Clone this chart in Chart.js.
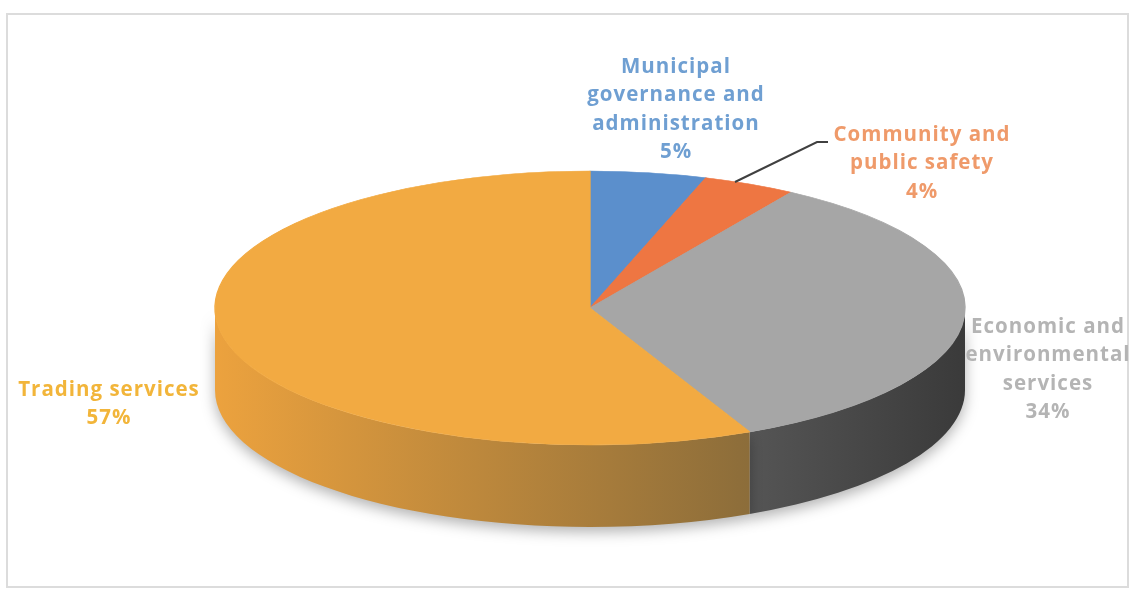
<!DOCTYPE html>
<html>
<head>
<meta charset="utf-8">
<script src="https://cdn.jsdelivr.net/npm/chart.js@4.4.1/dist/chart.umd.min.js"></script>
<style>
  html, body { margin: 0; padding: 0; background: #fff; }
  #wrap { position: relative; width: 1133px; height: 589px; }
</style>
</head>
<body>
<div id="wrap"><canvas id="pie" width="1133" height="589"></canvas></div>
<script>
// data
const categories = ["Municipal governance and administration", "Community and public safety", "Economic and environmental services", "Trading services"]
const shares = [5, 4, 34, 57]
const pct_labels = ["5%", "4%", "34%", "57%"]

const top_colors = ["#5b8fcc", "#ee7642", "#a6a6a6", "#f2aa42"]
const wall_colors = [["#4a73a6", "#3c5f8a"], ["#c26035", "#a0502c"], ["#555555", "#3a3a3a"], ["#eca23e", "#8c6d3a"]]
const text_colors = ["#6f9fd2", "#ef9a6a", "#b4b4b4", "#f2b53a"]

// where the tilted pie goes on the page
const CX = 590, CY = 308, RX = 375, RY = 137, DEPTH = 82

// label boxes: centre x, first line y, lines
const label_pos = [
    {x: 676, y: 67, lines: ["Municipal", "governance and", "administration"]},
    {x: 922, y: 135, lines: ["Community and", "public safety"]},
    {x: 1048, y: 327, lines: ["Economic and", "environmental", "services"]},
    {x: 109, y: 390, lines: ["Trading services"]}
]
const LINE_H = 28.5

const tilt = {
    id: "tilt",
    beforeDatasetsDraw(chart){
        const ctx = chart.ctx
        const meta = chart.getDatasetMeta(0)
        // side walls, only the front half (canvas angles 0..PI) is visible
        ctx.save()
        ctx.shadowColor = "rgba(0,0,0,0.3)"
        ctx.shadowBlur = 14
        ctx.shadowOffsetY = 5
        for(let i in meta.data){
            const arc = meta.data[i]
            const a = Math.max(arc.startAngle, 0)
            const b = Math.min(arc.endAngle, Math.PI)
            if(b <= a) continue
            const x0 = CX + RX*Math.cos(b), x1 = CX + RX*Math.cos(a)
            const grad = ctx.createLinearGradient(Math.min(x0, x1), 0, Math.max(x0, x1), 0)
            grad.addColorStop(0, wall_colors[i][0])
            grad.addColorStop(1, wall_colors[i][1])
            ctx.beginPath()
            ctx.ellipse(CX, CY, RX, RY, 0, a, b)
            ctx.ellipse(CX, CY + DEPTH, RX, RY, 0, b, a, true)
            ctx.closePath()
            ctx.fillStyle = grad
            ctx.fill()
        }
        ctx.restore()
        // squash the library's round pie into the top ellipse
        const first = meta.data[0]
        const R = first.outerRadius
        ctx.save()
        ctx.translate(CX, CY)
        ctx.scale(RX/R, RY/R)
        ctx.translate(-first.x, -first.y)
    },
    afterDatasetsDraw(chart){
        chart.ctx.restore()
    },
    afterDraw(chart){
        const ctx = chart.ctx
        ctx.save()
        // frame
        ctx.strokeStyle = "#dcdcdc"
        ctx.lineWidth = 2
        ctx.strokeRect(7, 14, 1121, 573)
        // leader line for the small slice
        ctx.strokeStyle = "#404040"
        ctx.lineWidth = 2
        ctx.beginPath()
        ctx.moveTo(735, 182)
        ctx.lineTo(817, 142)
        ctx.lineTo(828, 142)
        ctx.stroke()
        // labels
        ctx.font = "bold 20.5px 'Open Sans'"
        ctx.letterSpacing = "1px"
        ctx.textAlign = "center"
        ctx.textBaseline = "middle"
        for(let i in label_pos){
            const p = label_pos[i]
            ctx.fillStyle = text_colors[i]
            const lines = p.lines.concat([pct_labels[i]])
            for(let j in lines){
                ctx.fillText(lines[j], p.x, p.y + j*LINE_H)
            }
        }
        ctx.restore()
    }
}

new Chart(document.getElementById("pie"), {
    type: "pie",
    data: {
        labels: categories,
        datasets: [{
            data: shares,
            backgroundColor: top_colors,
            borderWidth: 1,
            borderColor: top_colors
        }]
    },
    options: {
        responsive: false,
        animation: false,
        events: [],
        layout: { padding: 20 },
        plugins: {
            legend: { display: false },
            tooltip: { enabled: false }
        }
    },
    plugins: [tilt]
})
</script>
</body>
</html>
